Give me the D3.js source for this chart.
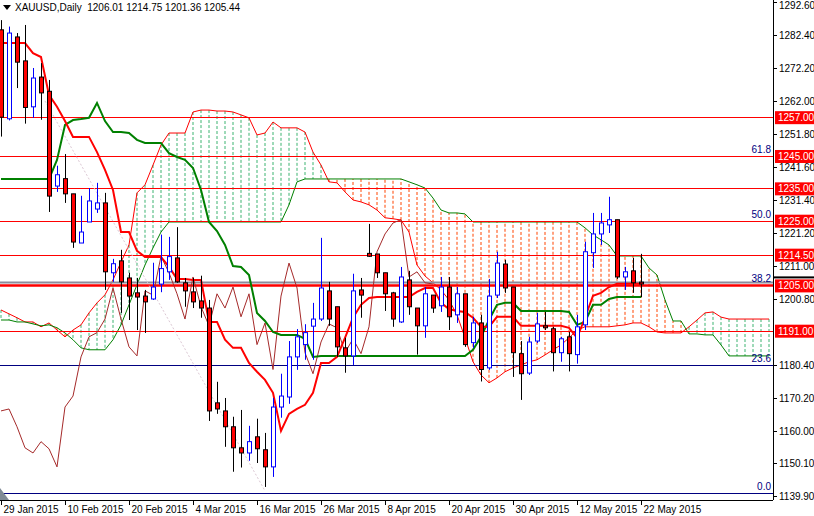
<!DOCTYPE html>
<html><head><meta charset="utf-8">
<script src="https://cdn.jsdelivr.net/npm/d3@7/dist/d3.min.js"></script>
<style>body{margin:0;background:#fff}svg{display:block;font-family:"Liberation Sans",Arial,sans-serif}</style>
</head><body>
<svg id="c" width="814" height="516"></svg>
<script>
const title = "XAUUSD,Daily  1206.01 1214.75 1201.36 1205.44";
const dateLabels = ["29 Jan 2015","10 Feb 2015","20 Feb 2015","4 Mar 2015","16 Mar 2015","26 Mar 2015","8 Apr 2015","20 Apr 2015","30 Apr 2015","12 May 2015","22 May 2015"];
const priceTicks = [1292.60,1282.40,1272.20,1262.00,1251.80,1241.60,1231.40,1221.20,1211.00,1200.80,1180.40,1170.20,1160.00,1150.10,1139.90];
const open  = [1284,1256.5,1281.8,1274.4,1260.2,1269.4,1265,1235.7,1238,1233.3,1218.1,1224.6,1228.6,1230.5,1208.9,1212.6,1207.3,1202.7,1201.7,1200.8,1205.4,1209.2,1213.5,1205.8,1203,1200.2,1198,1168.7,1166.2,1161.3,1154.8,1153.2,1158.2,1154.2,1148.9,1167.4,1170.5,1182.9,1186.7,1192.4,1194.6,1203.3,1198.4,1185.7,1183.2,1203.6,1214.9,1214.7,1208.9,1202.7,1193.7,1206.7,1198,1192.5,1202,1198.7,1204.5,1195.9,1202.4,1187.3,1193.4,1179.5,1202,1211.6,1204.5,1183.9,1177.9,1187.8,1192.5,1191.6,1184.2,1189.1,1183.6,1192.8,1215.1,1220.9,1223.7,1225.3,1207.6,1209.5,1206.01];
const high  = [1287,1285,1283,1285.5,1272.2,1273.7,1268.5,1242,1245.6,1233.3,1232.7,1235.1,1236.7,1233.6,1213.2,1216,1208.9,1207.3,1203.6,1212,1220.7,1220,1223,1207.3,1207.3,1208,1200.5,1175.2,1170.2,1164.4,1166.5,1161.6,1163.8,1159.4,1170.2,1177.7,1187.8,1191.5,1193,1199.6,1219.7,1206.1,1198.4,1188.8,1208.6,1207.3,1224,1214.7,1208.9,1203,1210.7,1209.5,1198,1204.5,1202,1207.6,1207.6,1204.5,1202.4,1195.3,1195.9,1207,1215.4,1212.9,1204.5,1187.8,1189.1,1196.5,1196.8,1192.2,1189.1,1190.6,1195.9,1218.5,1227.4,1227.4,1232.4,1225.3,1210.7,1213.5,1214.75];
const low   = [1251,1256,1266,1255,1256.8,1256.2,1227.7,1233.9,1230.5,1216.6,1218.1,1224.6,1227.4,1203.6,1206.1,1196.5,1194.3,1191.2,1190.3,1200.5,1202.9,1206.7,1205.8,1198.4,1198,1195,1163.1,1165.3,1155.1,1147.4,1148.7,1150.8,1150.1,1142.7,1145.8,1164.1,1168.4,1178.9,1182,1182,1194,1192.5,1182.9,1178,1180.4,1195,1213.8,1207.3,1197.1,1192.2,1193.4,1195.9,1183.6,1188.8,1196.5,1196.8,1191.2,1193.4,1186,1185.7,1175.3,1178.9,1201.1,1202.7,1176.7,1169.6,1177.3,1187.2,1191.2,1178.4,1181.4,1178.4,1180.8,1191.2,1210.4,1217.5,1221.2,1207,1203.6,1202.7,1201.36];
const close = [1257,1283,1274,1260,1269.1,1264.5,1232.6,1239.2,1233.3,1218.4,1221.5,1231.1,1230.5,1209.2,1211.7,1206.1,1201.7,1201.4,1199.9,1204.5,1210.2,1213.9,1206.1,1203.3,1199.9,1198,1166.2,1166.8,1161.3,1154.8,1153.2,1156.7,1154.5,1148.9,1167.4,1170.8,1182.9,1189.1,1190.4,1194.6,1204.2,1194.6,1186,1183.2,1203.3,1202,1214,1208.9,1202.4,1194.6,1207.6,1198.4,1192.5,1202.4,1198,1204.5,1195.3,1202.4,1186.7,1193.4,1179,1201.7,1211.9,1204.2,1184.2,1177.7,1187.5,1193.1,1191.9,1184.2,1188.5,1183.9,1192.2,1215.4,1220.9,1224.3,1225.3,1207.6,1209.2,1205.8,1205.44];
const tenkan = [1279.9,1279.9,1279.9,1279.9,1276.8,1275.6,1263.9,1260.2,1255.8,1250.9,1250.9,1250.9,1246.2,1240.7,1234.5,1221.5,1221.5,1215.7,1213.8,1213.8,1213.8,1210.7,1207.0,1207.0,1206.7,1206.7,1193.7,1193.7,1188.2,1185.7,1185.7,1181.0,1178.3,1175.8,1171.8,1160.0,1165.3,1166.8,1168.1,1171.8,1181.0,1181.0,1182.9,1188.8,1195.0,1199.0,1201.1,1201.4,1201.4,1201.4,1201.4,1201.4,1203.0,1204.2,1204.2,1199.6,1197.7,1197.1,1196.8,1195.0,1192.2,1192.2,1195.3,1195.3,1195.3,1192.5,1192.5,1192.5,1192.5,1192.5,1192.5,1191.9,1188.8,1195.0,1201.8,1202.7,1204.5,1205.5,1205.5,1205.5,1205.5];
const kijun = [1237.9,1237.9,1237.9,1237.9,1237.9,1237.9,1237.9,1243.8,1254.6,1256.1,1256.4,1256.8,1261.4,1255.8,1252.4,1252.4,1252.1,1250.0,1249.0,1249.0,1249.0,1245.9,1244.7,1243.8,1241.3,1234.5,1224.6,1221.8,1217.5,1211.0,1210.7,1208.2,1196.5,1194.0,1190.6,1189.7,1189.7,1189.7,1188.5,1182.9,1183.2,1183.2,1183.2,1183.2,1183.2,1183.2,1183.2,1183.2,1183.2,1183.2,1183.2,1183.2,1183.2,1183.2,1183.2,1183.2,1183.2,1183.2,1183.2,1185.1,1189.1,1194.3,1199.0,1199.6,1199.6,1197.1,1197.1,1197.1,1197.1,1197.1,1197.1,1196.8,1192.8,1193.7,1199.0,1199.0,1200.8,1201.4,1201.4,1201.4,1201.4];
const spanA = [1197.4,1196.2,1195.0,1193.7,1193.7,1192.2,1193.4,1191.2,1189.1,1191.2,1192.8,1196.5,1199.6,1202.1,1206.7,1212.2,1217.5,1233.6,1236.1,1242.2,1248.4,1252.1,1252.1,1252.1,1258.6,1259.2,1259.2,1258.9,1258.9,1258.6,1257.7,1256.8,1251.5,1252.1,1255.5,1253.7,1253.7,1253.7,1252.4,1246.2,1242.2,1237.0,1236.7,1233.9,1231.4,1230.8,1229.9,1228.3,1225.9,1225.6,1225.2,1221.5,1211.3,1207.9,1205.8,1203.6,1200.5,1195.9,1188.8,1181.4,1177.3,1174.9,1176.4,1178.3,1179.5,1180.4,1181.4,1182.0,1183.5,1185.1,1186.6,1188.8,1191.2,1192.2,1192.2,1192.2,1192.2,1192.5,1192.8,1193.4,1193.4,1192.2,1190.6,1190.3,1190.3,1190.3,1192.2,1194.3,1196.5,1196.8,1195.2,1194.6,1194.6,1194.6,1194.6,1194.6,1194.6];
const spanB = [1194.3,1194.3,1193.7,1193.7,1193.1,1192.5,1192.8,1191.9,1190.3,1188.2,1185.7,1185.1,1185.1,1185.1,1188.2,1192.8,1199.0,1205.2,1211.3,1216.6,1221.5,1224.6,1224.6,1224.6,1224.6,1224.6,1224.6,1224.6,1224.6,1224.6,1224.6,1224.6,1224.6,1224.6,1224.6,1224.6,1229.9,1237.0,1237.9,1237.9,1237.9,1237.9,1237.9,1237.9,1237.9,1237.9,1237.9,1237.9,1237.9,1237.9,1237.9,1237.0,1236.1,1235.1,1232.0,1228.3,1227.4,1227.4,1227.1,1224.6,1224.6,1224.6,1224.6,1224.6,1224.6,1224.6,1224.6,1224.6,1224.6,1224.6,1224.6,1224.6,1224.6,1222.8,1220.6,1219.1,1217.5,1214.1,1214.1,1214.1,1214.1,1210.4,1208.2,1200.5,1194.0,1194.0,1190.0,1190.0,1189.7,1189.7,1186.6,1183.2,1183.2,1183.2,1183.2,1183.2,1183.2];
const redLevels = [1257.00,1245.00,1235.00,1225.00,1214.50,1191.00];
const fibLevels = [0.0,23.6,38.2,50.0,61.8];
const fibLow = 1140.8, fibHigh = 1309.2;
const trendline = [[5.5,1262],[33,1141.5]];
const chikouShift = 26;

const svg = d3.select("#c");
const W = 773, H = 500;
const x = d3.scaleLinear().domain([0,96]).range([1,769]);
const y = d3.scaleLinear().domain([1139.9,1292.6]).range([496,2]);
const g = svg.append("g");
svg.append("clipPath").attr("id","cl").append("rect").attr("width",W).attr("height",H);
const p = g.append("g").attr("clip-path","url(#cl)");
const FS = 10;

spanA.forEach((a,i)=>{
  const b = spanB[i];
  p.append("line").attr("x1",x(i)).attr("x2",x(i)).attr("y1",y(a)).attr("y2",y(b))
   .attr("stroke", a>=b ? "#3cb371" : "#ff4500").attr("stroke-dasharray","3,2").attr("stroke-width",1);
});
const ln = arr => d3.line().x((d,i)=>x(i)).y(d=>y(d))(arr);
p.append("path").attr("d",ln(spanA)).attr("fill","none").attr("stroke","#ff0000").attr("stroke-width",1);
p.append("path").attr("d",ln(spanB)).attr("fill","none").attr("stroke","#008000").attr("stroke-width",1);

fibLevels.forEach(f=>{
  const v = fibLow + (fibHigh-fibLow)*f/100;
  p.append("line").attr("x1",0).attr("x2",W).attr("y1",Math.round(y(v))+0.5).attr("y2",Math.round(y(v))+0.5).attr("stroke","#000080");
  g.append("text").attr("x",W-2).attr("y",y(v)-3).attr("text-anchor","end").attr("font-size",FS).attr("fill","#000080").text(f.toFixed(1));
});
p.append("line").attr("x1",0).attr("x2",W).attr("y1",y(1205.9)).attr("y2",y(1205.9)).attr("stroke","#8c8c9c").attr("stroke-width",2);
redLevels.forEach(v=>{
  p.append("line").attr("x1",0).attr("x2",W).attr("y1",Math.round(y(v))+0.5).attr("y2",Math.round(y(v))+0.5)
   .attr("stroke","#ff0000").attr("stroke-width", 1);
});
p.append("line").attr("x1",0).attr("x2",W).attr("y1",y(1205)).attr("y2",y(1205)).attr("stroke","#ff0000").attr("stroke-width",2.5);

p.append("line").attr("x1",x(trendline[0][0])).attr("y1",y(trendline[0][1])).attr("x2",x(trendline[1][0])).attr("y2",y(trendline[1][1]))
 .attr("stroke","#dcc8d4").attr("stroke-dasharray","2,2");

const chik = close.slice(chikouShift);
p.append("path").attr("d",ln(chik)).attr("fill","none").attr("stroke","#a52a2a").attr("stroke-width",1);

p.append("path").attr("d",ln(kijun)).attr("fill","none").attr("stroke","#008000").attr("stroke-width",2);
p.append("path").attr("d",ln(tenkan)).attr("fill","none").attr("stroke","#ff0000").attr("stroke-width",2);

close.forEach((c,i)=>{
  const o=open[i], bull=c>o, cx=Math.round(x(i))+0.5;
  p.append("line").attr("x1",cx).attr("x2",cx).attr("y1",y(high[i])).attr("y2",y(low[i])).attr("stroke",bull?"#0000ff":"#000");
  const t=y(Math.max(o,c)), b=y(Math.min(o,c));
  p.append("rect").attr("x",cx-2).attr("y",t).attr("width",4).attr("height",Math.max(1,b-t))
   .attr("fill",bull?"#fff":"#ff0000").attr("stroke",bull?"#0000ff":"#000");
});

g.append("line").attr("x1",W+0.5).attr("x2",W+0.5).attr("y1",0).attr("y2",H).attr("stroke","#000");
g.append("line").attr("x1",0).attr("x2",W).attr("y1",H+0.5).attr("y2",H+0.5).attr("stroke","#000");
g.append("path").attr("d","M0,488 L9,500 L0,500 Z").attr("fill","#7f8a96");

priceTicks.forEach(v=>{
  g.append("line").attr("x1",W).attr("x2",W+4).attr("y1",Math.round(y(v))+0.5).attr("y2",Math.round(y(v))+0.5).attr("stroke","#000");
  g.append("text").attr("x",W+6).attr("y",Math.max(9,y(v)+4)).attr("font-size",FS).attr("fill","#000").text(v.toFixed(2));
});
redLevels.concat([1205.00]).forEach(v=>{
  g.append("rect").attr("x",W+2).attr("y",y(v)-6).attr("width",39).attr("height",13).attr("fill","#ff0000");
  g.append("text").attr("x",W+5).attr("y",y(v)+4).attr("font-size",FS).attr("fill","#fff").text(v.toFixed(2));
});
g.append("rect").attr("x",W+1).attr("y",y(1205)-9).attr("width",41).attr("height",2).attr("fill","#000");

dateLabels.forEach((l,k)=>{
  const xi = Math.round(x(k*8))+0.5;
  g.append("line").attr("x1",xi).attr("x2",xi).attr("y1",H).attr("y2",H+5).attr("stroke","#000");
  g.append("text").attr("x",xi+2).attr("y",H+13).attr("font-size",FS).attr("fill","#000").text(l);
});

g.append("path").attr("d","M3,5 L11,5 L7,10 Z").attr("fill","#000");
g.append("text").attr("x",15).attr("y",11).attr("font-size",FS).attr("fill","#000").attr("xml:space","preserve").text(title);
</script>
</body></html>
